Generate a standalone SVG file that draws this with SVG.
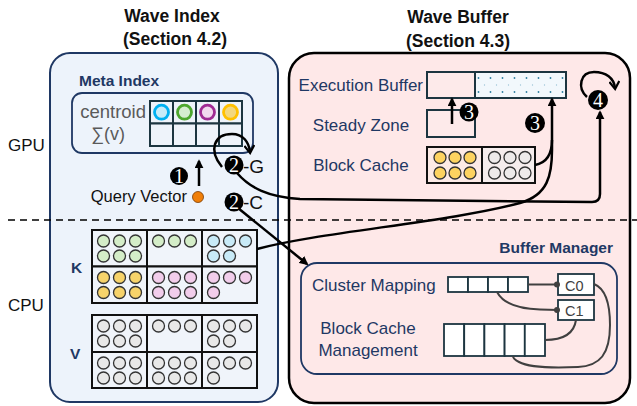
<svg xmlns="http://www.w3.org/2000/svg" width="637" height="406" viewBox="0 0 637 406">
<style>
.t{font-family:"Liberation Sans",Arial,sans-serif;}
.title{font-family:"Liberation Sans",Arial,sans-serif;font-weight:bold;font-size:17.5px;fill:#111;text-anchor:middle;}
.navy{font-family:"Liberation Sans",Arial,sans-serif;font-size:17px;fill:#1F3864;}
.navyb{font-family:"Liberation Sans",Arial,sans-serif;font-size:15.5px;font-weight:bold;fill:#1F3864;}
.blk{font-family:"Liberation Sans",Arial,sans-serif;font-size:17px;fill:#111;}
.gray{font-family:"Liberation Sans",Arial,sans-serif;fill:#5A5A5A;}
.num{font-family:"Liberation Serif","Times New Roman",serif;font-size:20px;fill:#fff;text-anchor:middle;}
.cell{fill:#F0F4FA;stroke:#111;stroke-width:2;}
.mcell{fill:#EEF3FA;stroke:#1C3540;stroke-width:2;}
.ecell{stroke:#1C3540;stroke-width:2;}
.wcell{fill:#fff;stroke:#1C3540;stroke-width:1.8;}
.c{stroke:#333;stroke-width:1.3;}
.g{fill:#D4EDC8;}
.b{fill:#C8EAF7;}
.y{fill:#F7D36A;}
.p{fill:#F2CDEB;}
.n{fill:#E8E8E8;}
.conn{fill:none;stroke:#000;stroke-width:2.5;}
.mg{fill:none;stroke:#404040;stroke-width:2;}
</style>
<defs>
<marker id="ah" viewBox="0 0 10 10" refX="8" refY="5" markerWidth="9" markerHeight="9" markerUnits="userSpaceOnUse" orient="auto">
<path d="M0,0 L10,5 L0,10 z" fill="#000"/>
</marker>
<marker id="ch" viewBox="0 0 10 10" refX="7" refY="5" markerWidth="11" markerHeight="11" markerUnits="userSpaceOnUse" orient="auto">
<path d="M1,0.5 L8,5 L1,9.5" fill="none" stroke="#000" stroke-width="2"/>
</marker>
<pattern id="dots" patternUnits="userSpaceOnUse" x="475" y="72" width="12" height="14">
<circle cx="3.5" cy="6" r="0.9" fill="#2E7FA0"/>
<circle cx="9.5" cy="13" r="0.7" fill="#9CC4D6"/>
</pattern>
</defs>

<g id="titles">
<text class="title" x="172" y="22">Wave Index</text>
<text class="title" x="175" y="45">(Section 4.2)</text>
<text class="title" x="458" y="23">Wave Buffer</text>
<text class="title" x="458" y="47">(Section 4.3)</text>
<text class="blk" x="8" y="151">GPU</text>
<text class="blk" x="8" y="311">CPU</text>
</g>

<g id="wave-index">
<rect x="50" y="53" width="228" height="349" rx="20" fill="#EDF3FB" stroke="#1F3864" stroke-width="2"/>
<text class="navyb" x="79" y="86">Meta Index</text>
</g>

<g id="wave-buffer">
<rect x="289" y="53" width="341" height="350" rx="25" fill="#FEE8E8" stroke="#000" stroke-width="2.5"/>
</g>

<g id="separator">
<line x1="8" y1="220" x2="637" y2="220" stroke="#000" stroke-width="1.5" stroke-dasharray="7 5"/>
</g>

<g id="meta-index">
<rect x="72" y="93" width="181" height="60" rx="10" fill="none" stroke="#1F3864" stroke-width="1.8"/>
<text class="gray" x="146" y="118" font-size="18.5" text-anchor="end">centroid</text>
<text class="gray" x="108" y="140" font-size="18" text-anchor="middle">∑(v)</text>
<rect class="mcell" x="150" y="101" width="23" height="22.5"/>
<rect class="mcell" x="173" y="101" width="23" height="22.5"/>
<rect class="mcell" x="196" y="101" width="23" height="22.5"/>
<rect class="mcell" x="219" y="101" width="23" height="22.5"/>
<rect class="mcell" x="150" y="123.5" width="23" height="22.5"/>
<rect class="mcell" x="173" y="123.5" width="23" height="22.5"/>
<rect class="mcell" x="196" y="123.5" width="23" height="22.5"/>
<rect class="mcell" x="219" y="123.5" width="23" height="22.5"/>
<circle cx="161.5" cy="112.2" r="7" fill="#C6EBF8" stroke="#00B0F0" stroke-width="2.8"/>
<circle cx="184.5" cy="112.2" r="7" fill="#D5EDCF" stroke="#4EA72E" stroke-width="2.8"/>
<circle cx="207.5" cy="112.2" r="7" fill="#F2D9EE" stroke="#A02B93" stroke-width="2.8"/>
<circle cx="230.5" cy="112.2" r="7" fill="#F3D77E" stroke="#FFC000" stroke-width="2.8"/>
</g>

<g id="query">
<text class="t" x="187" y="202" font-size="16.5" fill="#111" text-anchor="end">Query Vector</text>
<circle cx="198" cy="197" r="5.5" fill="#F07F09" stroke="#7A3A00" stroke-width="0.8"/>
<circle cx="179" cy="176" r="9" fill="#000"/>
<text class="num" x="179" y="182.5" font-size="18">1</text>
</g>

<g id="kv-store">
<text class="navyb" x="71" y="273">K</text>
<text class="navyb" x="70" y="359">V</text>
<rect class="cell" x="92" y="230" width="55" height="36.5"/>
<rect class="cell" x="147" y="230" width="55" height="36.5"/>
<rect class="cell" x="202" y="230" width="55" height="36.5"/>
<rect class="cell" x="92" y="266.5" width="55" height="36.5"/>
<rect class="cell" x="147" y="266.5" width="55" height="36.5"/>
<rect class="cell" x="202" y="266.5" width="55" height="36.5"/>
<rect class="cell" x="92" y="315" width="55" height="37"/>
<rect class="cell" x="147" y="315" width="55" height="37"/>
<rect class="cell" x="202" y="315" width="55" height="37"/>
<rect class="cell" x="92" y="352" width="55" height="36"/>
<rect class="cell" x="147" y="352" width="55" height="36"/>
<rect class="cell" x="202" y="352" width="55" height="36"/>
<g class="c g">
<circle cx="103.5" cy="241" r="6"/><circle cx="119.5" cy="241" r="6"/><circle cx="135.5" cy="241" r="6"/>
<circle cx="103.5" cy="256" r="6"/><circle cx="119.5" cy="256" r="6"/><circle cx="135.5" cy="256" r="6"/>
<circle cx="158.5" cy="241" r="6"/><circle cx="174.5" cy="241" r="6"/><circle cx="190.5" cy="241" r="6"/>
</g>
<g class="c b">
<circle cx="213.5" cy="241" r="6"/><circle cx="229.5" cy="241" r="6"/><circle cx="245.5" cy="241" r="6"/>
<circle cx="213.5" cy="256" r="6"/><circle cx="229.5" cy="256" r="6"/>
</g>
<g class="c y">
<circle cx="103.5" cy="277.5" r="6"/><circle cx="119.5" cy="277.5" r="6"/><circle cx="135.5" cy="277.5" r="6"/>
<circle cx="103.5" cy="292.5" r="6"/><circle cx="119.5" cy="292.5" r="6"/><circle cx="135.5" cy="292.5" r="6"/>
</g>
<g class="c p">
<circle cx="158.5" cy="277.5" r="6"/><circle cx="174.5" cy="277.5" r="6"/><circle cx="190.5" cy="277.5" r="6"/>
<circle cx="158.5" cy="292.5" r="6"/><circle cx="174.5" cy="292.5" r="6"/><circle cx="190.5" cy="292.5" r="6"/>
<circle cx="213.5" cy="277.5" r="6"/><circle cx="229.5" cy="277.5" r="6"/><circle cx="245.5" cy="277.5" r="6"/>
<circle cx="213.5" cy="292.5" r="6"/>
</g>
<g class="c n">
<circle cx="103.5" cy="326" r="6"/><circle cx="119.5" cy="326" r="6"/><circle cx="135.5" cy="326" r="6"/>
<circle cx="103.5" cy="341" r="6"/><circle cx="119.5" cy="341" r="6"/><circle cx="135.5" cy="341" r="6"/>
<circle cx="158.5" cy="326" r="6"/><circle cx="174.5" cy="326" r="6"/><circle cx="190.5" cy="326" r="6"/>
<circle cx="213.5" cy="326" r="6"/><circle cx="229.5" cy="326" r="6"/><circle cx="245.5" cy="326" r="6"/>
<circle cx="213.5" cy="341" r="6"/><circle cx="229.5" cy="341" r="6"/>
<circle cx="103.5" cy="363" r="6"/><circle cx="119.5" cy="363" r="6"/><circle cx="135.5" cy="363" r="6"/>
<circle cx="103.5" cy="378" r="6"/><circle cx="119.5" cy="378" r="6"/><circle cx="135.5" cy="378" r="6"/>
<circle cx="158.5" cy="363" r="6"/><circle cx="174.5" cy="363" r="6"/><circle cx="190.5" cy="363" r="6"/>
<circle cx="158.5" cy="378" r="6"/><circle cx="174.5" cy="378" r="6"/><circle cx="190.5" cy="378" r="6"/>
<circle cx="213.5" cy="363" r="6"/><circle cx="229.5" cy="363" r="6"/><circle cx="245.5" cy="363" r="6"/>
<circle cx="213.5" cy="378" r="6"/>
</g>
</g>

<g id="execution-buffer">
<text class="navy" x="423" y="91" text-anchor="end">Execution Buffer</text>
<rect class="ecell" x="427" y="72" width="48" height="26" fill="#FDEAEA"/>
<rect class="ecell" x="475" y="72" width="91" height="26" fill="#F2F8FC"/>
<rect x="476" y="73" width="89" height="24" fill="url(#dots)"/>
</g>

<g id="steady-zone">
<text class="navy" x="361" y="131" text-anchor="middle">Steady Zone</text>
<rect class="ecell" x="427" y="110" width="48" height="27" fill="#FDEAEA"/>
</g>

<g id="block-cache">
<text class="navy" x="361" y="171" text-anchor="middle">Block Cache</text>
<rect x="427" y="147" width="55" height="36" fill="#FCEAE6" stroke="#111" stroke-width="2"/>
<rect x="482" y="147" width="53" height="36" fill="#F6EDED" stroke="#111" stroke-width="2"/>
<g class="c" fill="#FDD360">
<circle cx="440" cy="157.5" r="6"/><circle cx="455" cy="157.5" r="6"/><circle cx="470" cy="157.5" r="6"/>
<circle cx="440" cy="173" r="6"/><circle cx="455" cy="173" r="6"/><circle cx="470" cy="173" r="6"/>
</g>
<g class="c" fill="#EEEAEA">
<circle cx="494.5" cy="157.5" r="6"/><circle cx="510" cy="157.5" r="6"/><circle cx="525" cy="157.5" r="6"/>
<circle cx="494.5" cy="173" r="6"/><circle cx="510" cy="173" r="6"/><circle cx="525" cy="173" r="6"/>
</g>
</g>

<g id="buffer-manager">
<text class="navyb" x="613" y="253" text-anchor="end" font-size="16">Buffer Manager</text>
<rect x="301" y="263" width="316" height="111" rx="16" fill="none" stroke="#1F3864" stroke-width="1.8"/>
<text class="navy" x="312" y="291">Cluster Mapping</text>
<text class="navy" x="368" y="334" text-anchor="middle">Block Cache</text>
<text class="navy" x="368" y="356" text-anchor="middle">Management</text>
<rect class="wcell" x="448" y="277" width="20" height="15"/>
<rect class="wcell" x="468" y="277" width="20" height="15"/>
<rect class="wcell" x="488" y="277" width="20" height="15"/>
<rect class="wcell" x="508" y="277" width="20" height="15"/>
<rect class="wcell" x="444" y="324" width="20.2" height="32"/>
<rect class="wcell" x="464.2" y="324" width="20.2" height="32"/>
<rect class="wcell" x="484.4" y="324" width="20.2" height="32"/>
<rect class="wcell" x="504.6" y="324" width="20.2" height="32"/>
<rect class="wcell" x="524.8" y="324" width="20.2" height="32"/>
<rect class="wcell" x="558" y="274" width="36" height="21"/>
<rect class="wcell" x="558" y="300" width="36" height="20"/>
<text class="t" x="565" y="291" font-size="14.5" fill="#404040">C0</text>
<text class="t" x="565" y="316" font-size="14.5" fill="#404040">C1</text>
</g>

<g id="connectors">
<path class="mg" d="M528,284.5 L558,284.5"/>
<circle cx="557" cy="284.5" r="3" fill="#404040"/>
<path class="mg" d="M497,292 C504,305 520,309 540,309.5 L558,310"/>
<circle cx="557" cy="310" r="3" fill="#404040"/>
<path class="mg" d="M576,320 C574,334 562,340 545,340"/>
<path class="mg" d="M594,284 C604,288 610,300 610,325 C610,354 600,366 578,367 C556,368 530,368 519,362 C515,360 513,358 513,356"/>

<path class="conn" d="M222,167 C208,150 214,134 232,134 C243,134 249,142 250,152" marker-end="url(#ch)"/>
<path class="conn" d="M587,97 C577,88 580,72 594,72 C606,72 614,78 615,88" marker-end="url(#ch)"/>

<path class="conn" d="M199,186 L199,161" stroke-width="2.2" marker-end="url(#ah)"/>
<path class="conn" d="M452,124 L452,99" marker-end="url(#ah)"/>
<path class="conn" d="M237,173 C250,188 268,197 300,199 L592,202 Q600,202 600,194 L600,112" marker-end="url(#ah)"/>
<path class="conn" d="M257,249 C320,232 450,222 520,203 C548,195 552,175 552,150 L552,99" marker-end="url(#ah)"/>
<path class="conn" d="M535,165 C546,163 552,155 552,140"/>
<path class="conn" d="M238,208 L307,264" stroke-width="2" marker-end="url(#ah)"/>
</g>

<g id="step-markers">
<circle cx="234" cy="165" r="9.5" fill="#000"/>
<text class="num" x="234" y="172">2</text>
<text class="t" x="243" y="173" font-size="19" fill="#111">-G</text>
<circle cx="234" cy="202" r="9.5" fill="#000"/>
<text class="num" x="234" y="209">2</text>
<text class="t" x="243" y="209" font-size="19" fill="#111">-C</text>
<circle cx="469" cy="112" r="9.5" fill="#000"/>
<text class="num" x="469" y="119">3</text>
<circle cx="535" cy="123" r="10" fill="#000"/>
<text class="num" x="535" y="130">3</text>
<circle cx="598" cy="100" r="10" fill="#000"/>
<text class="num" x="598" y="107">4</text>
</g>
</svg>
